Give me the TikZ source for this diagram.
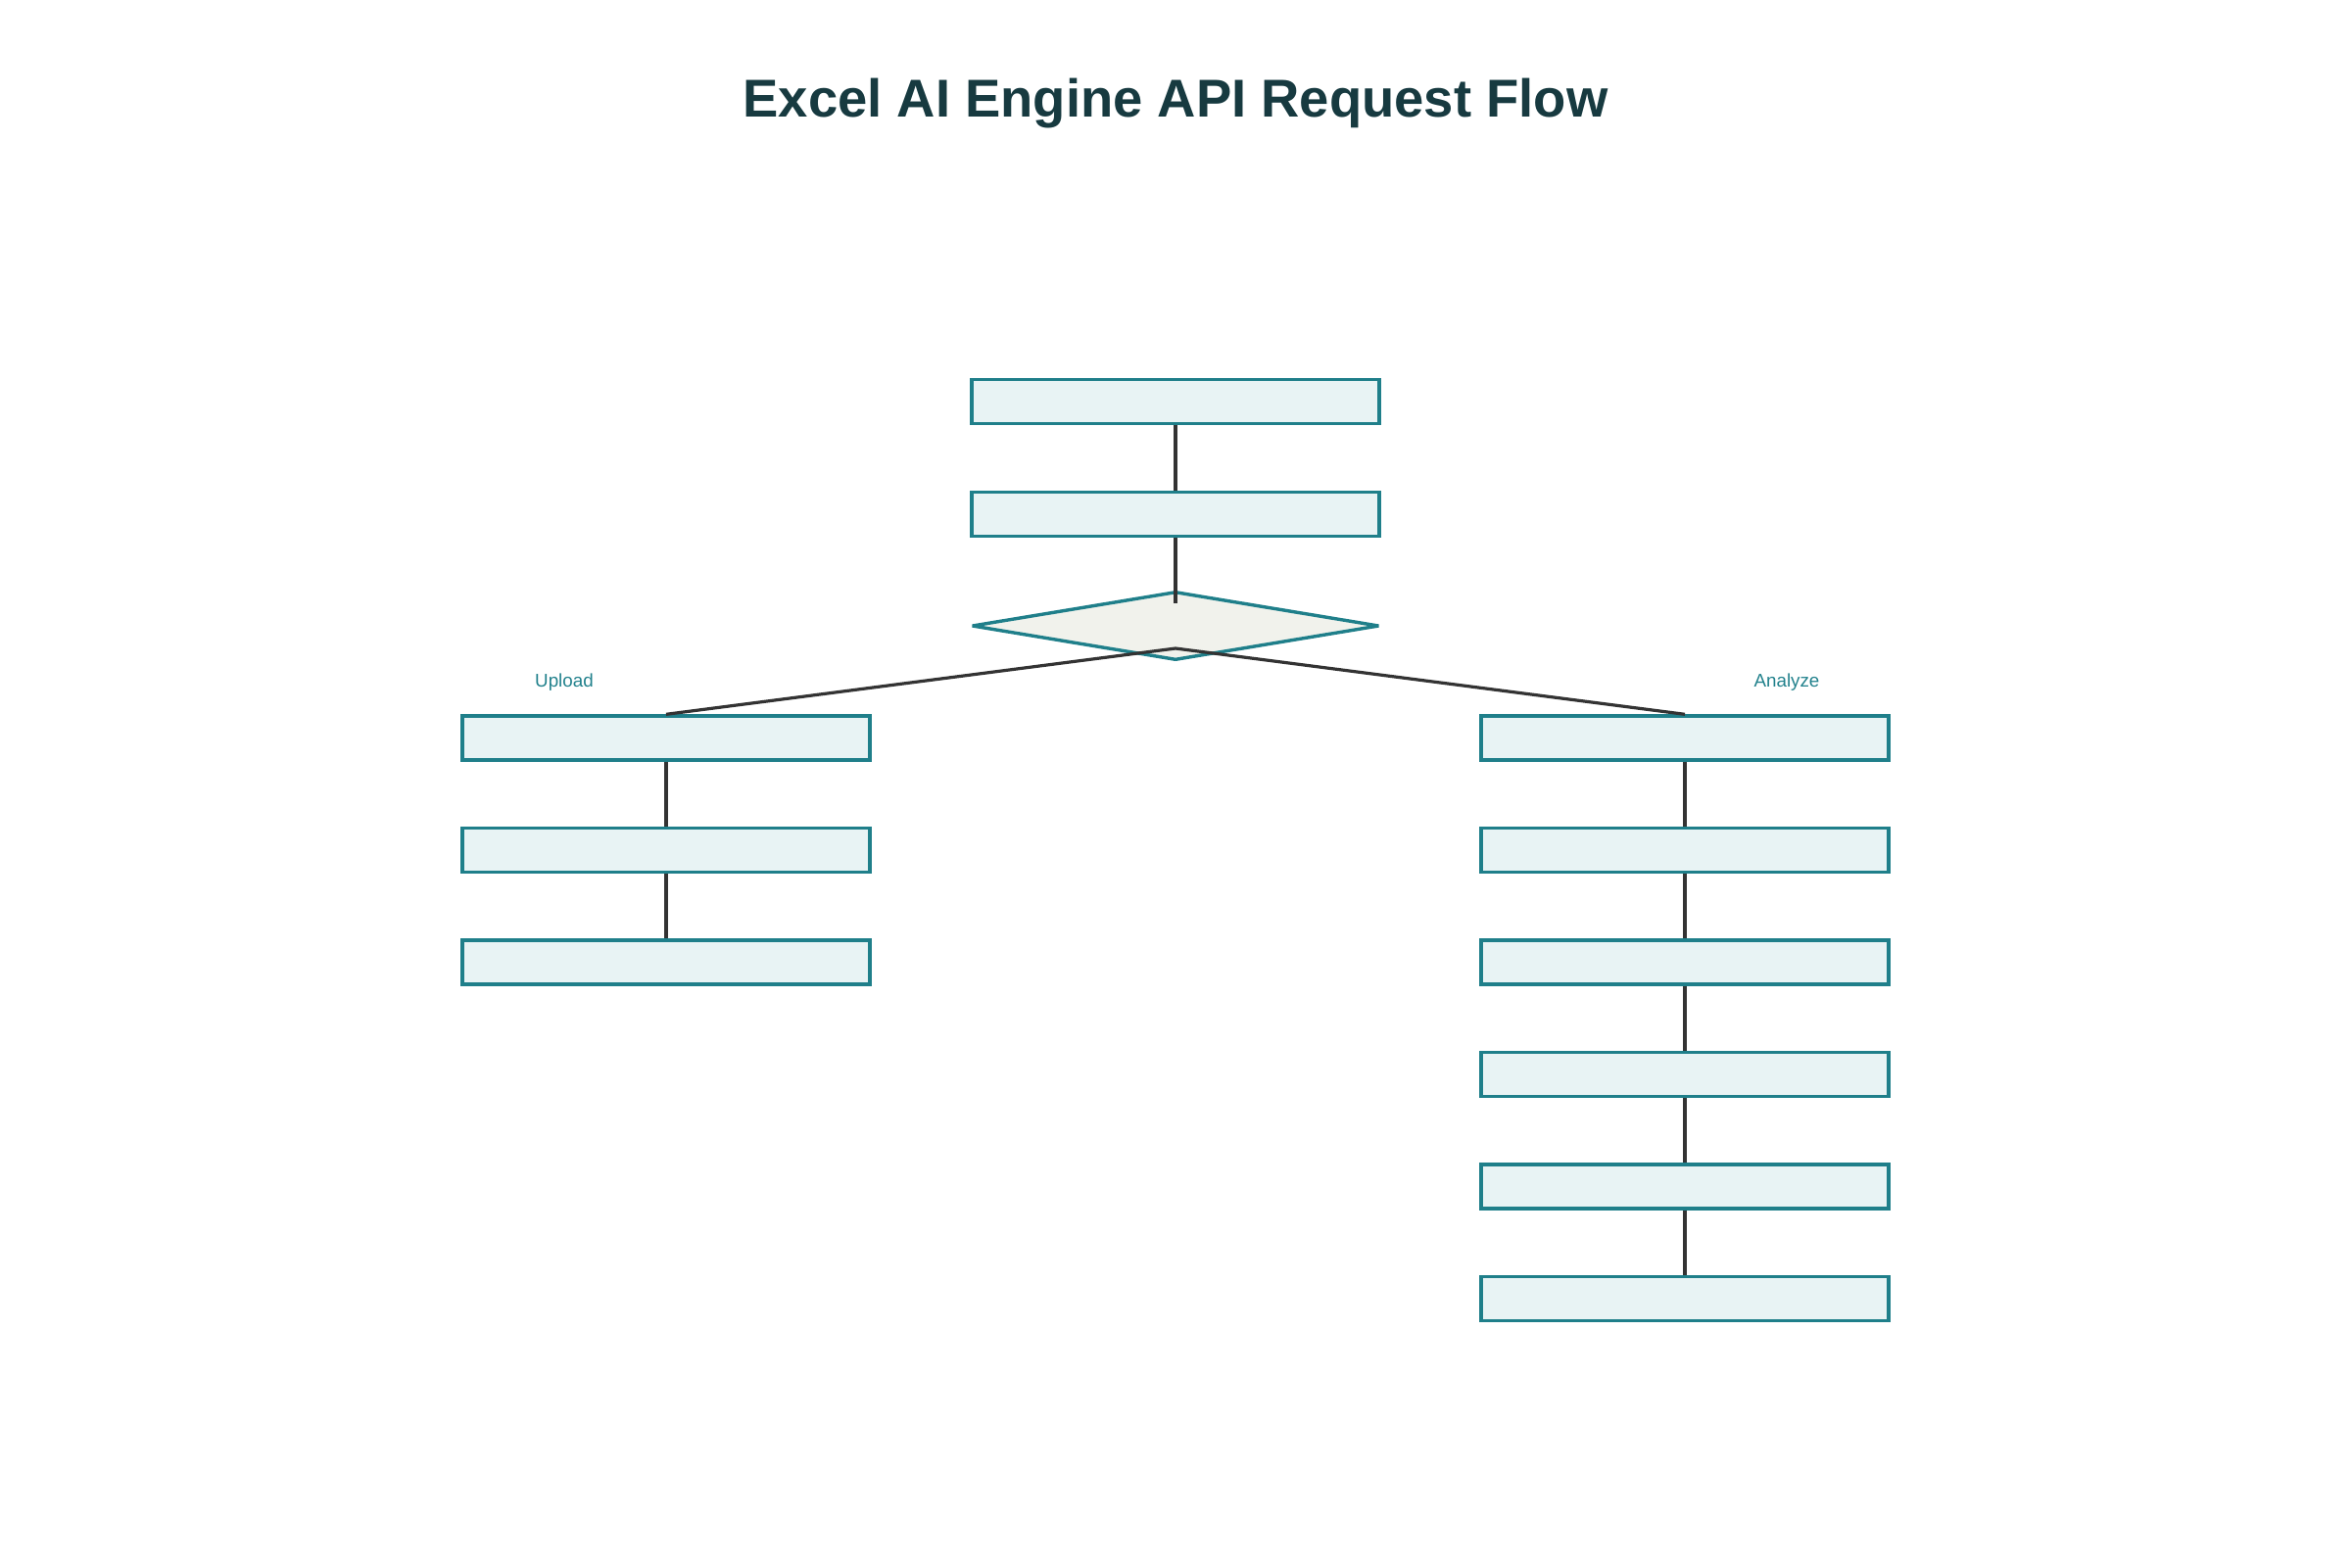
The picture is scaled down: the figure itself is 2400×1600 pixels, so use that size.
\documentclass[tikz,border=0pt]{standalone}
\usepackage{fontspec}
\setmainfont{Liberation Sans}
\usetikzlibrary{shapes.geometric,calc}
\definecolor{boxline}{HTML}{1F7F8A}
\definecolor{boxfill}{HTML}{E8F3F4}
\definecolor{decfill}{HTML}{F1F2EC}
\definecolor{edgecol}{HTML}{333333}
\definecolor{labelcol}{HTML}{21818C}
\definecolor{titlecol}{HTML}{173A40}
\tikzset{
  stepbox/.style={draw=boxline, fill=boxfill, line width=0.85pt, rectangle, inner sep=0pt, minimum width=104pt, minimum height=11.25pt},
  decbox/.style={draw=boxline, fill=decfill, line width=0.85pt, line join=bevel, diamond, inner sep=0pt, minimum width=104pt, minimum height=17.5pt},
  conn/.style={draw=edgecol, line width=0.8pt},
  branchlabel/.style={text=labelcol, font=\fontsize{4.7}{6}\selectfont, anchor=base, inner sep=0pt},
}
\begin{document}
\begin{tikzpicture}[x=0.25pt,y=-0.25pt]
\useasboundingbox (0,0) rectangle (2400,1600);
\node[anchor=base, text=titlecol, inner sep=0pt, font=\fontsize{13.6}{16}\selectfont\bfseries] (title) at (1200,119) {Excel AI Engine API Request Flow};
% center column
\node[stepbox] (a1) at (1200,410) {};
\node[stepbox] (a2) at (1200,525) {};
\node[decbox] (d) at (1200,639) {};
% left column
\node[stepbox] (u1) at (680,753.5) {};
\node[stepbox] (u2) at (680,868) {};
\node[stepbox] (u3) at (680,982.5) {};
% right column
\node[stepbox] (r1) at (1720,753.5) {};
\node[stepbox] (r2) at (1720,868) {};
\node[stepbox] (r3) at (1720,982.5) {};
\node[stepbox] (r4) at (1720,1097) {};
\node[stepbox] (r5) at (1720,1211.5) {};
\node[stepbox] (r6) at (1720,1326) {};
% labels
\node[branchlabel] (lu) at (576,701) {Upload};
\node[branchlabel] (la) at (1824,701) {Analyze};
% connector ends inside diamond
\coordinate (din) at (1200,616);
\coordinate (dout) at (1200,662);
% connectors
\draw[conn] (a1.south) -- (a2.north);
\draw[conn] (a2.south) -- (din);
\draw[conn] (dout) -- (u1.north);
\draw[conn] (dout) -- (r1.north);
\draw[conn] (u1.south) -- (u2.north);
\draw[conn] (u2.south) -- (u3.north);
\draw[conn] (r1.south) -- (r2.north);
\draw[conn] (r2.south) -- (r3.north);
\draw[conn] (r3.south) -- (r4.north);
\draw[conn] (r4.south) -- (r5.north);
\draw[conn] (r5.south) -- (r6.north);
\end{tikzpicture}
\end{document}
